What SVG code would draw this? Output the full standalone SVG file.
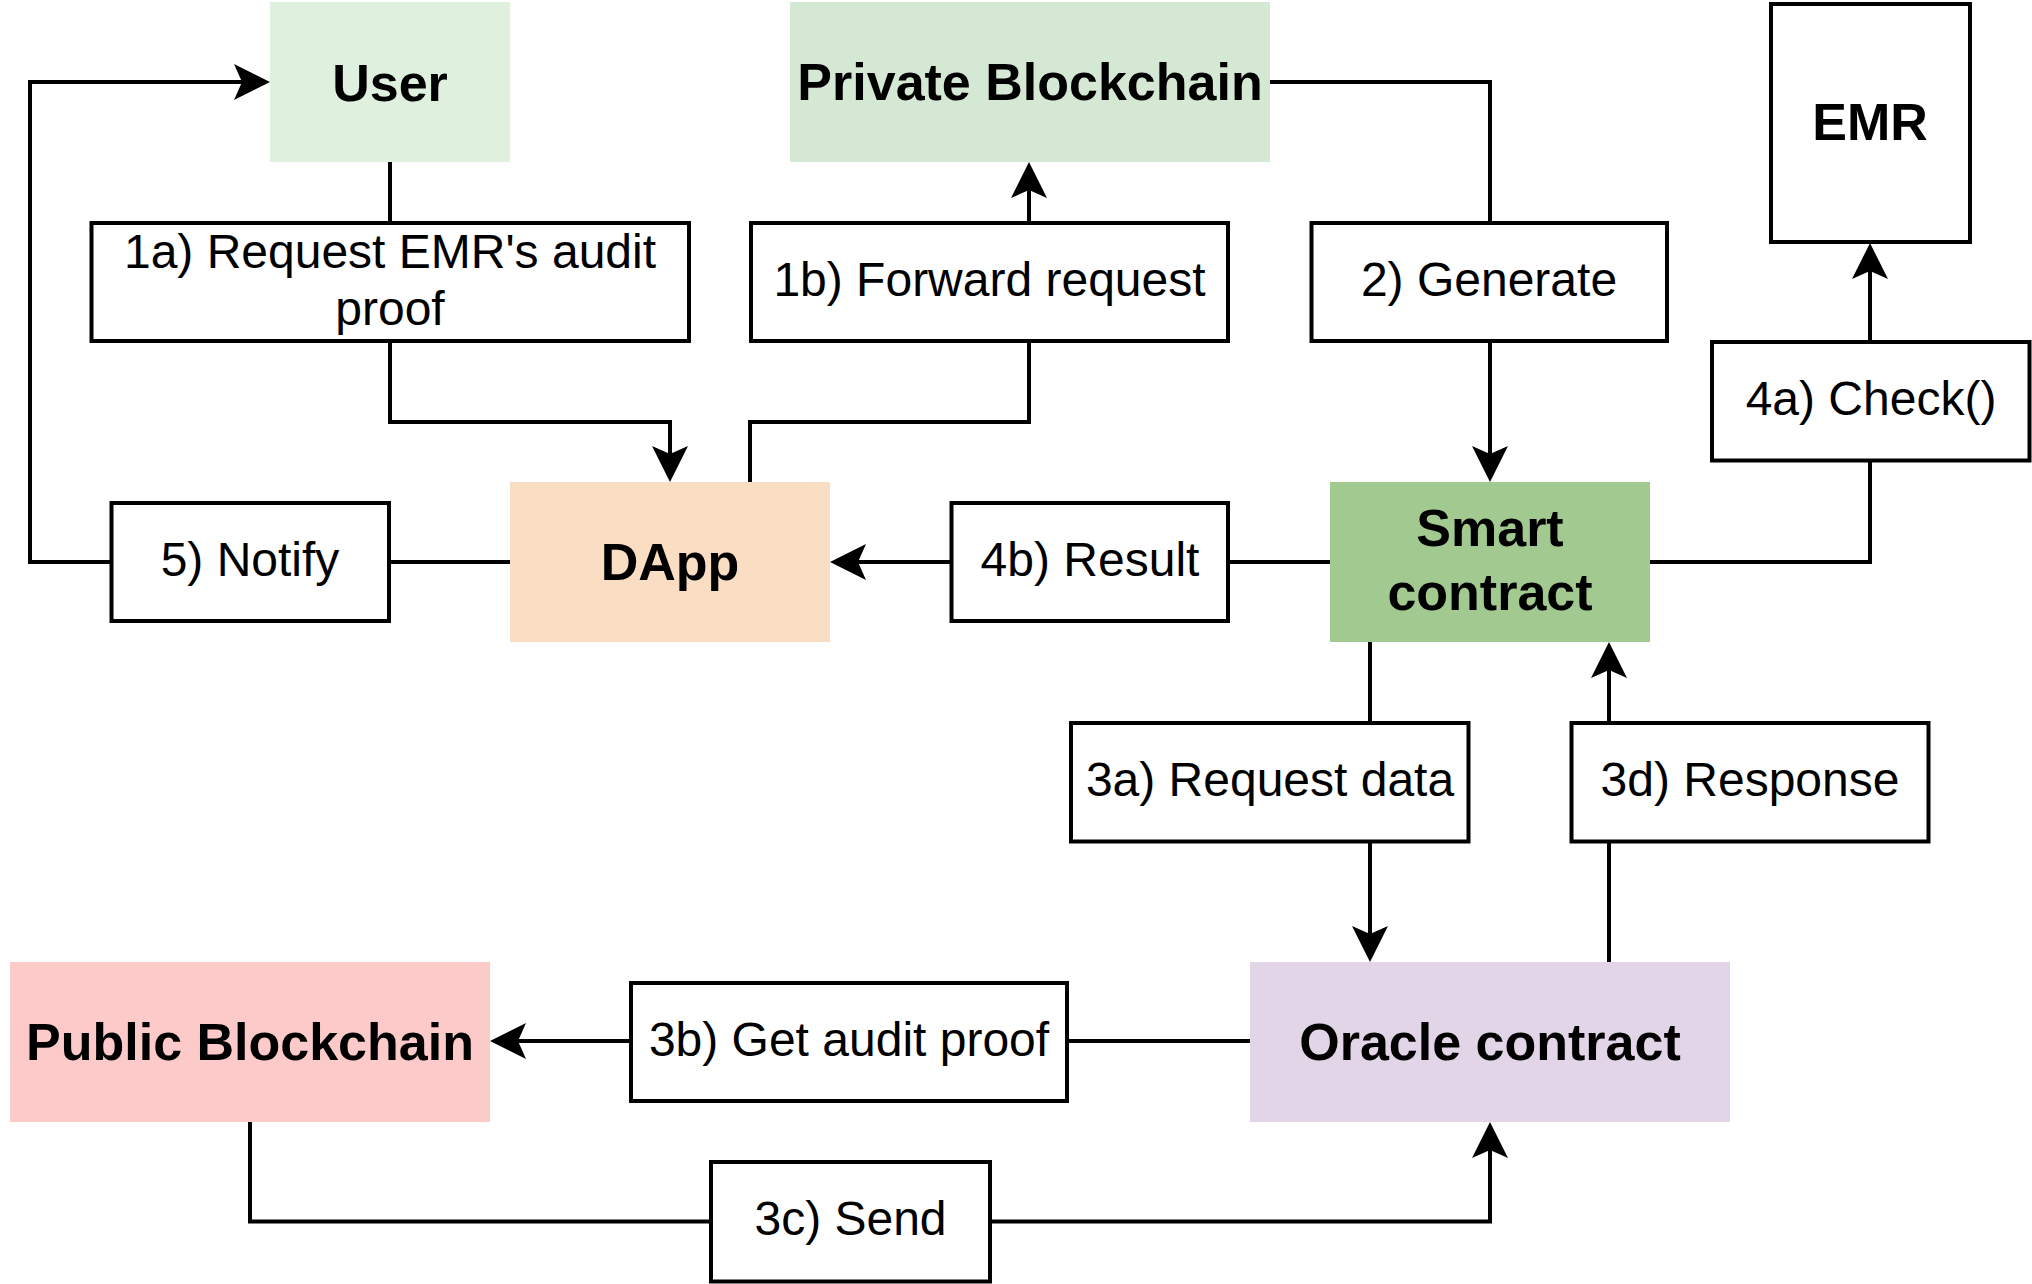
<svg xmlns="http://www.w3.org/2000/svg" width="2032" height="1284" viewBox="0 0 2032 1284">
<style>
  .conn { fill: none; stroke: #000; stroke-width: 4; stroke-linejoin: miter; }
  .lbl { fill: #fff; stroke: #000; stroke-width: 4; }
  .t { font-family: "Liberation Sans", Arial, Helvetica, sans-serif; font-size: 48px; fill: #000; text-anchor: middle; }
  .b { font-family: "Liberation Sans", Arial, Helvetica, sans-serif; font-size: 52px; font-weight: bold; fill: #000; text-anchor: middle; }
</style>
<defs>
  <marker id="arr" markerUnits="userSpaceOnUse" markerWidth="36" markerHeight="36" viewBox="0 0 36 36" refX="8" refY="18" orient="auto">
    <path d="M0,0 L36,18 L0,36 L8,18 Z" fill="#000"/>
  </marker>
</defs>
<rect x="0" y="0" width="2032" height="1284" fill="#fff"/>

<g id="connectors">
  <path class="conn" d="M390,162 V422 H670 V454" marker-end="url(#arr)"/>
  <path class="conn" d="M750,482 V422 H1029 V190" marker-end="url(#arr)"/>
  <path class="conn" d="M1270,82 H1490 V454" marker-end="url(#arr)"/>
  <path class="conn" d="M1650,562 H1870 V271" marker-end="url(#arr)"/>
  <path class="conn" d="M1330,562 H858" marker-end="url(#arr)"/>
  <path class="conn" d="M510,562 H30 V82 H242" marker-end="url(#arr)"/>
  <path class="conn" d="M1370,642 V934" marker-end="url(#arr)"/>
  <path class="conn" d="M1609,962 V670" marker-end="url(#arr)"/>
  <path class="conn" d="M1250,1041 H518" marker-end="url(#arr)"/>
  <path class="conn" d="M250,1122 V1221.5 H1490 V1150" marker-end="url(#arr)"/>
</g>

<g id="user">
  <rect x="270" y="2" width="240" height="160" fill="#DFF0DE"/>
  <text class="b" x="390" y="100.5">User</text>
</g>
<g id="private-blockchain">
  <rect x="790" y="2" width="480" height="160" fill="#D5E8D4"/>
  <text class="b" x="1030" y="100">Private Blockchain</text>
</g>
<g id="emr">
  <rect class="lbl" x="1771" y="4" width="199" height="238"/>
  <text class="b" x="1870" y="140">EMR</text>
</g>
<g id="dapp">
  <rect x="510" y="482" width="320" height="160" fill="#FADEC4"/>
  <text class="b" x="670" y="580">DApp</text>
</g>
<g id="smart-contract">
  <rect x="1330" y="482" width="320" height="160" fill="#A2C98F"/>
  <text class="b" x="1490" y="546">Smart</text>
  <text class="b" x="1490" y="610">contract</text>
</g>
<g id="oracle-contract">
  <rect x="1250" y="962" width="480" height="160" fill="#E1D5E7"/>
  <text class="b" x="1490" y="1060">Oracle contract</text>
</g>
<g id="public-blockchain">
  <rect x="10" y="962" width="480" height="160" fill="#FDCACA"/>
  <text class="b" x="250" y="1060">Public Blockchain</text>
</g>

<g id="label-1a">
  <rect class="lbl" x="91.5" y="223" width="597.5" height="118"/>
  <text class="t" x="390" y="267.5">1a) Request EMR's audit</text>
  <text class="t" x="390" y="325">proof</text>
</g>
<g id="label-1b">
  <rect class="lbl" x="751" y="223" width="477" height="118"/>
  <text class="t" x="989.5" y="295.5">1b) Forward request</text>
</g>
<g id="label-2">
  <rect class="lbl" x="1311.5" y="223" width="355.5" height="118"/>
  <text class="t" x="1489" y="295.5">2) Generate</text>
</g>
<g id="label-4a">
  <rect class="lbl" x="1712" y="342" width="317.5" height="118.5"/>
  <text class="t" x="1871" y="414.5">4a) Check()</text>
</g>
<g id="label-5">
  <rect class="lbl" x="111.5" y="503" width="277.5" height="118"/>
  <text class="t" x="250" y="575.5">5) Notify</text>
</g>
<g id="label-4b">
  <rect class="lbl" x="951.5" y="503" width="276.5" height="118"/>
  <text class="t" x="1090" y="575.5">4b) Result</text>
</g>
<g id="label-3a">
  <rect class="lbl" x="1071" y="723" width="397.5" height="118.5"/>
  <text class="t" x="1270" y="795.5">3a) Request data</text>
</g>
<g id="label-3d">
  <rect class="lbl" x="1571.5" y="723" width="357" height="118.5"/>
  <text class="t" x="1750" y="795.5">3d) Response</text>
</g>
<g id="label-3b">
  <rect class="lbl" x="631" y="983" width="436" height="118"/>
  <text class="t" x="849" y="1055.5">3b) Get audit proof</text>
</g>
<g id="label-3c">
  <rect class="lbl" x="711" y="1162" width="279" height="119.5"/>
  <text class="t" x="850.5" y="1235">3c) Send</text>
</g>
</svg>
